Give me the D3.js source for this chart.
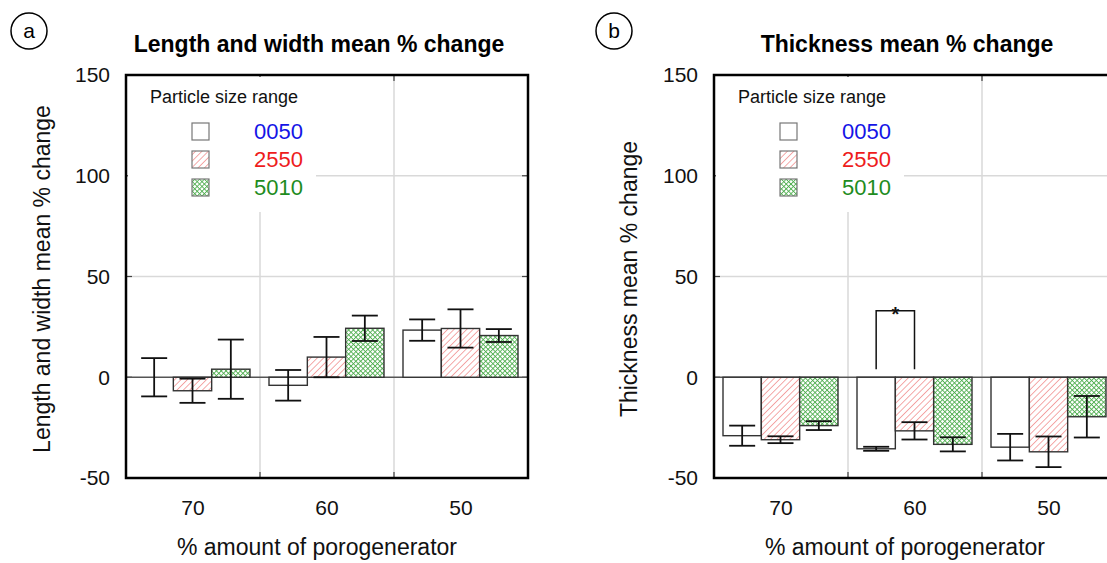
<!DOCTYPE html>
<html>
<head>
<meta charset="utf-8">
<script src="https://cdn.jsdelivr.net/npm/d3@7"></script>
<style>
  body { margin: 0; background: #fff; }
  svg { display: block; font-family: "Liberation Sans", Arial, sans-serif; }
</style>
</head>
<body>
<svg id="chart" width="1107" height="563"></svg>
<script>
// Categories (% porogenerator) and particle size series
var categories = ["70", "60", "50"];
var series = ["0050", "2550", "5010"];
var yTicks = [-50, 0, 50, 100, 150];

// (a) Length and width mean % change
var lw0050 = [0, -4, 23.4],     lw0050Err = [9.5, 7.6, 5.3];
var lw2550 = [-6.7, 10, 24.2],  lw2550Err = [6, 10, 9.5];
var lw5010 = [4, 24.3, 20.7],   lw5010Err = [14.7, 6.3, 3.2];

// (b) Thickness mean % change
var th0050 = [-29, -35.5, -34.7], th0050Err = [5, 1, 6.6];
var th2550 = [-31, -26.6, -37],   th2550Err = [1.7, 4.3, 7.6];
var th5010 = [-24, -33.3, -19.6], th5010Err = [2.2, 3.5, 10.3];

// significance bracket in (b): category, from series, to series, top value, foot value
var sigBracket = { cat: "60", from: "0050", to: "2550", top: 33, foot: 4, label: "*" };

var svg = d3.select("#chart");
var defs = svg.append("defs");

// red diagonal hatch
var ph = defs.append("pattern").attr("id", "hatch").attr("patternUnits", "userSpaceOnUse")
  .attr("width", 4.5).attr("height", 4.5).attr("patternTransform", "rotate(45)");
ph.append("rect").attr("width", 4.5).attr("height", 4.5).attr("fill", "#fff");
ph.append("line").attr("x1", 0).attr("y1", 0).attr("x2", 0).attr("y2", 4.5)
  .attr("stroke", "#f08585").attr("stroke-width", 1.4);

// green checker-like grid
var pg = defs.append("pattern").attr("id", "grid").attr("patternUnits", "userSpaceOnUse")
  .attr("width", 3.4).attr("height", 3.4).attr("patternTransform", "rotate(45)");
pg.append("rect").attr("width", 3.4).attr("height", 3.4).attr("fill", "#fff");
pg.append("path").attr("d", "M0,0.5H3.4M0.5,0V3.4").attr("stroke", "#4fae4f").attr("stroke-width", 0.9);

var fills = { "0050": "#fff", "2550": "url(#hatch)", "5010": "url(#grid)" };
var labelColor = { "0050": "#1414e6", "2550": "#ee1c1c", "5010": "#1e8c1e" };

function panel(opt) {
  var left = opt.left, top = 75, w = 402, bottom = 478;
  var g = svg.append("g");

  var x = d3.scaleBand().domain(categories).range([left, left + w]).paddingInner(0).paddingOuter(0);
  var xs = d3.scaleBand().domain(series).range([9, 9 + 115]);
  var y = d3.scaleLinear().domain([-50, 150]).range([bottom, top]);

  // grid lines
  var grid = g.append("g").attr("stroke", "#d9d9d9").attr("stroke-width", 1.5);
  grid.selectAll(".hg").data([50, 100]).join("line")
    .attr("x1", left).attr("x2", left + w).attr("y1", function (d) { return y(d); }).attr("y2", function (d) { return y(d); });
  grid.selectAll(".vg").data(categories.slice(1)).join("line")
    .attr("x1", function (d) { return x(d); }).attr("x2", function (d) { return x(d); })
    .attr("y1", top).attr("y2", bottom);

  // inward tick marks
  var tk = g.append("g").attr("stroke", "#444").attr("stroke-width", 1.2);
  tk.selectAll(".yl").data(yTicks).join("line")
    .attr("x1", left).attr("x2", left + 6).attr("y1", function (d) { return y(d); }).attr("y2", function (d) { return y(d); });
  tk.selectAll(".yr").data(yTicks).join("line")
    .attr("x1", left + w - 6).attr("x2", left + w).attr("y1", function (d) { return y(d); }).attr("y2", function (d) { return y(d); });
  tk.selectAll(".xt").data(categories.slice(1)).join("line")
    .attr("x1", function (d) { return x(d); }).attr("x2", function (d) { return x(d); }).attr("y1", top).attr("y2", top + 6);
  tk.selectAll(".xb").data(categories.slice(1)).join("line")
    .attr("x1", function (d) { return x(d); }).attr("x2", function (d) { return x(d); }).attr("y1", bottom - 6).attr("y2", bottom);

  // legend box (white, covers grid)
  var lg = g.append("g");
  lg.append("rect").attr("x", left + 2).attr("y", top + 2).attr("width", 188).attr("height", 212 - top - 2).attr("fill", "#fff");
  lg.append("text").attr("x", left + 24).attr("y", 103).attr("font-size", 18).attr("fill", "#111").text("Particle size range");
  var li = lg.selectAll(".li").data(series).join("g")
    .attr("transform", function (d, i) { return "translate(0," + (i * 28) + ")"; });
  li.append("rect").attr("x", left + 66).attr("y", 123).attr("width", 17).attr("height", 17)
    .attr("fill", function (d) { return fills[d]; }).attr("stroke", "#777").attr("stroke-width", 1.2);
  li.append("text").attr("x", left + 128).attr("y", 139).attr("font-size", 22)
    .attr("fill", function (d) { return labelColor[d]; }).text(function (d) { return d; });

  // zero line
  g.append("line").attr("x1", left).attr("x2", left + w).attr("y1", y(0)).attr("y2", y(0))
    .attr("stroke", "#555").attr("stroke-width", 1.5);

  // bars
  var rows = [];
  series.forEach(function (s, si) {
    categories.forEach(function (c, ci) {
      rows.push({ cat: c, s: s, v: opt.means[si][ci], e: opt.errs[si][ci] });
    });
  });
  var bx = function (d) { return x(d.cat) + xs(d.s); };
  g.append("g").selectAll("rect").data(rows).join("rect")
    .attr("x", bx).attr("width", xs.bandwidth())
    .attr("y", function (d) { return y(Math.max(0, d.v)); })
    .attr("height", function (d) { return Math.abs(y(d.v) - y(0)); })
    .attr("fill", function (d) { return fills[d.s]; })
    .attr("stroke", "#333").attr("stroke-width", 1.4);

  // error bars
  var eb = g.append("g").attr("stroke", "#111").attr("stroke-width", 1.8);
  var cx = function (d) { return bx(d) + xs.bandwidth() / 2; };
  eb.selectAll(".ev").data(rows).join("line")
    .attr("x1", cx).attr("x2", cx)
    .attr("y1", function (d) { return y(d.v + d.e); }).attr("y2", function (d) { return y(d.v - d.e); });
  [1, -1].forEach(function (sgn) {
    eb.selectAll(".ec" + sgn).data(rows).join("line")
      .attr("x1", function (d) { return cx(d) - 13; }).attr("x2", function (d) { return cx(d) + 13; })
      .attr("y1", function (d) { return y(d.v + sgn * d.e); }).attr("y2", function (d) { return y(d.v + sgn * d.e); });
  });

  if (opt.sig) {
    var s = opt.sig;
    var x1 = x(s.cat) + xs(s.from) + xs.bandwidth() / 2, x2 = x(s.cat) + xs(s.to) + xs.bandwidth() / 2;
    g.append("path")
      .attr("d", "M" + x1 + "," + y(s.foot) + "V" + y(s.top) + "H" + x2 + "V" + y(s.foot))
      .attr("fill", "none").attr("stroke", "#111").attr("stroke-width", 1.5);
    g.append("text").attr("x", (x1 + x2) / 2).attr("y", y(s.top) + 10).attr("text-anchor", "middle")
      .attr("font-size", 20).attr("font-weight", "bold").attr("fill", "#111").text(s.label);
  }

  // frame
  g.append("rect").attr("x", left).attr("y", top).attr("width", w).attr("height", bottom - top)
    .attr("fill", "none").attr("stroke", "#000").attr("stroke-width", 2.5);

  // y tick labels
  g.append("g").selectAll("text").data(yTicks).join("text")
    .attr("x", left - 16).attr("y", function (d) { return y(d); }).attr("dy", "0.35em")
    .attr("text-anchor", "end").attr("font-size", 21).attr("fill", "#111").text(function (d) { return d; });

  // x tick labels
  g.append("g").selectAll("text").data(categories).join("text")
    .attr("x", function (d) { return x(d) + x.bandwidth() / 2; }).attr("y", 515)
    .attr("text-anchor", "middle").attr("font-size", 21).attr("fill", "#111").text(function (d) { return d; });

  // axis titles
  g.append("text").attr("x", left + w / 2 - 10).attr("y", 555).attr("text-anchor", "middle")
    .attr("font-size", 23).attr("fill", "#111").text("% amount of porogenerator");
  g.append("text").attr("transform", "translate(" + opt.yTitleX + ",279) rotate(-90)")
    .attr("text-anchor", "middle").attr("font-size", 23).attr("fill", "#111").text(opt.yTitle);

  // chart title
  g.append("text").attr("x", left + w / 2 - 8).attr("y", 52).attr("text-anchor", "middle")
    .attr("font-size", 23).attr("font-weight", "bold").attr("fill", "#000").text(opt.title);

  // panel letter
  g.append("circle").attr("cx", opt.letterX).attr("cy", 31).attr("r", 18)
    .attr("fill", "none").attr("stroke", "#000").attr("stroke-width", 1.5);
  g.append("text").attr("x", opt.letterX).attr("y", 31).attr("dy", "0.35em").attr("text-anchor", "middle")
    .attr("font-size", 21).attr("fill", "#000").text(opt.letter);
}

panel({
  left: 126, letter: "a", letterX: 29, yTitleX: 50,
  title: "Length and width mean % change", yTitle: "Length and width mean % change",
  means: [lw0050, lw2550, lw5010], errs: [lw0050Err, lw2550Err, lw5010Err]
});
panel({
  left: 714, letter: "b", letterX: 614, yTitleX: 637,
  title: "Thickness mean % change", yTitle: "Thickness mean % change",
  means: [th0050, th2550, th5010], errs: [th0050Err, th2550Err, th5010Err], sig: sigBracket
});
</script>
</body>
</html>
